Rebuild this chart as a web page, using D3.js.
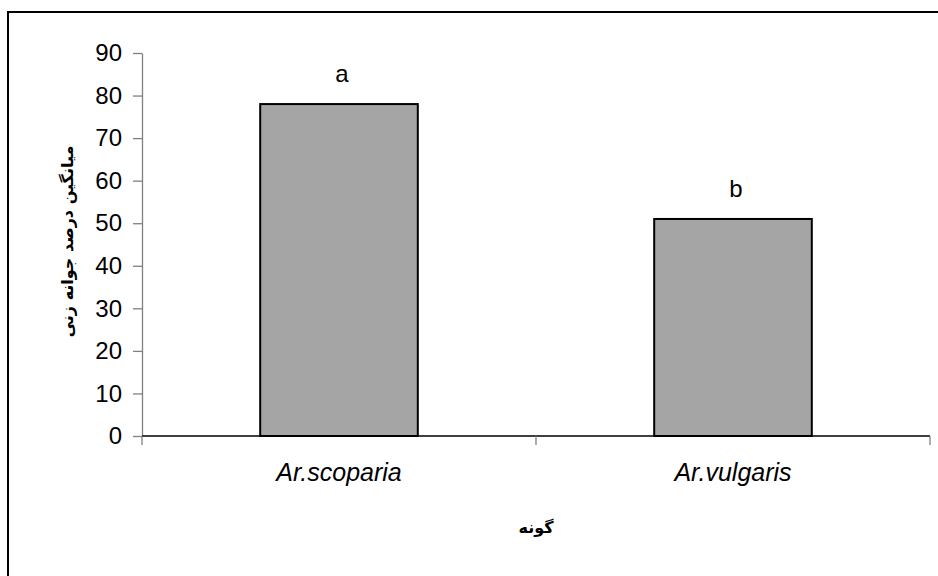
<!DOCTYPE html>
<html lang="fa">
<head>
    <meta charset="utf-8" />
    <title>Germination by species</title>
    <script src="https://d3js.org/d3.v7.min.js"></script>
    <style>
        body { margin: 0; background: #fff; }
        svg { display: block; }
    </style>
</head>
<body>
    <script>
        // chart data
        var species = ["Ar.scoparia", "Ar.vulgaris"];
        var germination = [78, 51];
        var groupLetters = ["a", "b"];
        var yTicks = [0, 10, 20, 30, 40, 50, 60, 70, 80, 90];
        var yTitle = "میانگین درصد جوانه زنی";
        var xTitle = "گونه";

        var w = 938;
        var h = 576;
        // plot area (note: "top" is reserved on window, so use other names)
        var plotLeft = 142, plotRight = 930, plotTop = 53, plotBottom = 436;

        var svg = d3.select("body").append("svg").attr("width", w).attr("height", h);

        // outer frame (runs off the right and bottom edge like the original)
        svg.append("rect")
            .attr("x", 8).attr("y", 12)
            .attr("width", 1000).attr("height", 1000)
            .style("fill", "none").style("stroke", "#000").style("stroke-width", 2);

        var y = d3.scaleLinear().domain([0, 90]).range([plotBottom, plotTop]);
        var x = d3.scaleBand().domain(species).range([plotLeft, plotRight])
            .paddingInner(0.6).paddingOuter(0.3);

        // y axis
        var yAxis = svg.append("g")
            .attr("transform", "translate(" + plotLeft + ",0)")
            .call(d3.axisLeft(y).tickValues(yTicks).tickSize(9).tickSizeOuter(0).tickPadding(11));
        yAxis.select(".domain").style("stroke", "#808080").style("stroke-width", 1.3);
        yAxis.selectAll(".tick line").style("stroke", "#808080").style("stroke-width", 1.3);
        yAxis.selectAll(".tick text")
            .style("font-family", "'Liberation Sans', Arial, sans-serif")
            .style("font-size", "24px").style("fill", "#000");

        // bars
        svg.selectAll("rect.bar").data(species).enter().append("rect")
            .attr("class", "bar")
            .attr("x", function (d) { return x(d); })
            .attr("y", function (d, i) { return y(germination[i]); })
            .attr("width", x.bandwidth())
            .attr("height", function (d, i) { return y(0) - y(germination[i]); })
            .style("fill", "#a5a5a5").style("stroke", "#000").style("stroke-width", 2);

        // x axis line and category boundary ticks
        svg.append("line")
            .attr("x1", plotLeft).attr("x2", plotRight)
            .attr("y1", y(0)).attr("y2", y(0))
            .style("stroke", "#000").style("stroke-width", 1.5);

        var bounds = d3.range(species.length + 1).map(function (k) { return plotLeft + k * x.step(); });
        svg.selectAll("line.xtick").data(bounds).enter().append("line")
            .attr("class", "xtick")
            .attr("x1", function (d) { return d; }).attr("x2", function (d) { return d; })
            .attr("y1", y(0)).attr("y2", y(0) + 9)
            .style("stroke", "#808080").style("stroke-width", 1.3);

        // category labels
        svg.selectAll("text.cat").data(species).enter().append("text")
            .attr("class", "cat")
            .attr("x", function (d) { return x(d) + x.bandwidth() / 2; })
            .attr("y", 481)
            .attr("text-anchor", "middle")
            .style("font-family", "'Liberation Sans', Arial, sans-serif")
            .style("font-style", "italic")
            .style("font-size", "25px")
            .text(function (d) { return d; });

        // significance letters
        svg.selectAll("text.letter").data(species).enter().append("text")
            .attr("class", "letter")
            .attr("x", function (d) { return x(d) + x.bandwidth() / 2 + 3; })
            .attr("y", function (d, i) { return y(germination[i]) - 22; })
            .attr("text-anchor", "middle")
            .style("font-family", "'Liberation Sans', Arial, sans-serif")
            .style("font-size", "24px")
            .text(function (d, i) { return groupLetters[i]; });

        // axis titles
        svg.append("text")
            .attr("transform", "translate(73," + ((plotTop + plotBottom) / 2 - 3) + ") rotate(-90)")
            .attr("text-anchor", "middle")
            .attr("direction", "rtl")
            .style("font-family", "'DejaVu Sans', sans-serif")
            .style("font-weight", "bold")
            .style("font-size", "16px")
            .text(yTitle);

        svg.append("text")
            .attr("x", (plotLeft + plotRight) / 2)
            .attr("y", 533)
            .attr("text-anchor", "middle")
            .attr("direction", "rtl")
            .style("font-family", "'DejaVu Sans', sans-serif")
            .style("font-weight", "bold")
            .style("font-size", "16px")
            .text(xTitle);
    </script>
</body>
</html>
